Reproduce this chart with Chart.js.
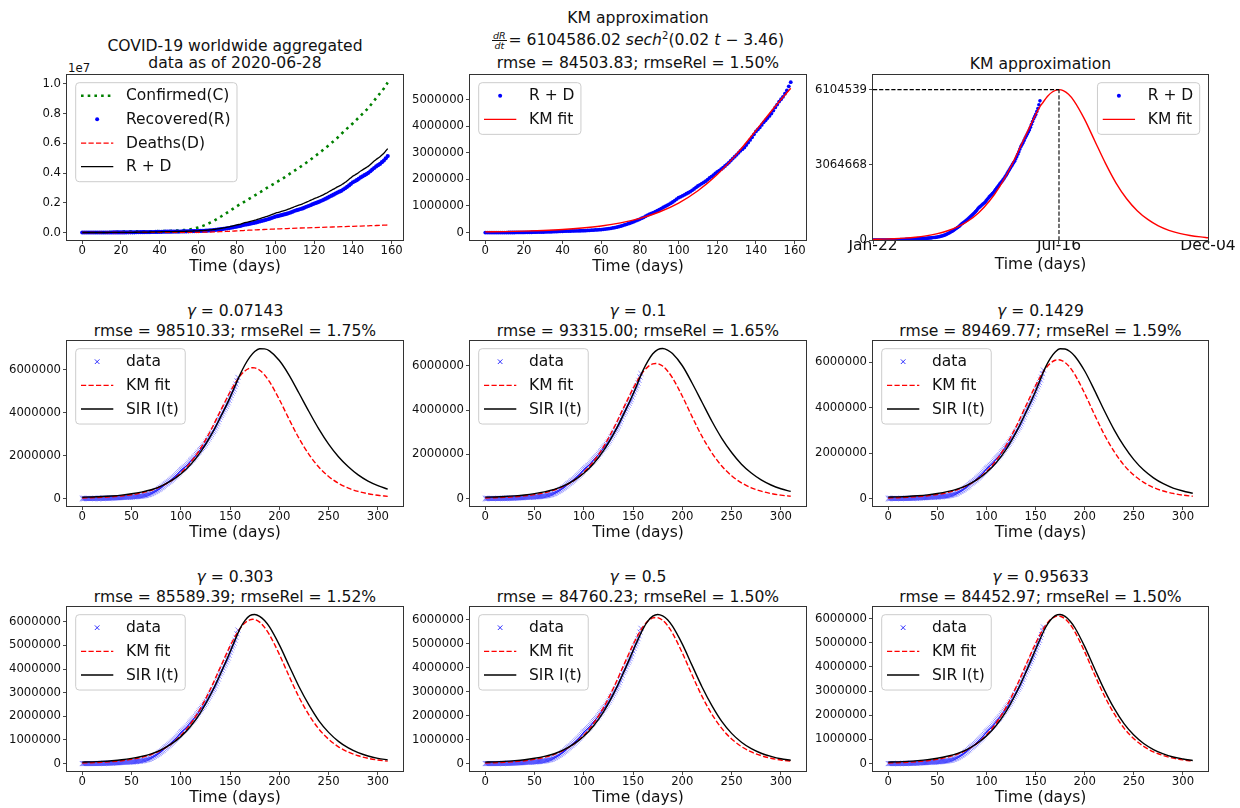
<!DOCTYPE html>
<html><head><meta charset="utf-8">
<script src="https://cdn.jsdelivr.net/npm/chart.js"></script>
<style>
html,body{margin:0;padding:0;background:#fff;}
#wrap{position:relative;width:1240px;height:808px;overflow:hidden;font-family:"DejaVu Sans",sans-serif;color:#111;}
canvas{position:absolute;}
.t{position:absolute;width:600px;text-align:center;font-size:15.6px;line-height:20px;white-space:nowrap;}
.frac{display:inline-block;vertical-align:middle;text-align:center;font-size:9.5px;line-height:9.5px;font-style:italic;margin-right:2px;}
.frac span{display:block;padding:0 1px;}
.frac span:first-child{border-bottom:1px solid #111;}
.off{position:absolute;font-size:11.7px;line-height:14px;}
</style></head><body><div id="wrap">
<div class="t" style="left:-65px;top:35.7px">COVID-19 worldwide aggregated</div>
<div class="t" style="left:-65px;top:53.3px">data as of 2020-06-28</div>
<div class="off" style="left:68px;top:61px">1e7</div>
<div class="t" style="left:338px;top:8.3px">KM approximation</div>
<div class="t" style="left:338px;top:30px"><span class="frac"><span>dR</span><span>dt</span></span>= 6104586.02 <i>sech</i><sup style="font-size:10px;line-height:0">2</sup>(0.02 <i>t</i> − 3.46)</div>
<div class="t" style="left:338px;top:53.3px">rmse = 84503.83; rmseRel = 1.50%</div>
<div class="t" style="left:740.5px;top:54px">KM approximation</div>
<div class="t" style="left:-65px;top:301px"><i>γ</i> = 0.07143</div>
<div class="t" style="left:-65px;top:321px">rmse = 98510.33; rmseRel = 1.75%</div>
<div class="t" style="left:338px;top:301px"><i>γ</i> = 0.1</div>
<div class="t" style="left:338px;top:321px">rmse = 93315.00; rmseRel = 1.65%</div>
<div class="t" style="left:740.5px;top:301px"><i>γ</i> = 0.1429</div>
<div class="t" style="left:740.5px;top:321px">rmse = 89469.77; rmseRel = 1.59%</div>
<div class="t" style="left:-65px;top:566.7px"><i>γ</i> = 0.303</div>
<div class="t" style="left:-65px;top:586.7px">rmse = 85589.39; rmseRel = 1.52%</div>
<div class="t" style="left:338px;top:566.7px"><i>γ</i> = 0.5</div>
<div class="t" style="left:338px;top:586.7px">rmse = 84760.23; rmseRel = 1.50%</div>
<div class="t" style="left:740.5px;top:566.7px"><i>γ</i> = 0.95633</div>
<div class="t" style="left:740.5px;top:586.7px">rmse = 84452.97; rmseRel = 1.50%</div>
</div>
<script>
// ---------------- data (values in millions) ----------------
const dayAxis = [0,1,2,3,4,5,6,7,8,9,10,11,12,13,14,15,16,17,18,19,20,21,22,23,24,25,26,27,28,29,30,31,32,33,34,35,36,37,38,39,40,41,42,43,44,45,46,47,48,49,50,51,52,53,54,55,56,57,58,59,60,61,62,63,64,65,66,67,68,69,70,71,72,73,74,75,76,77,78,79,80,81,82,83,84,85,86,87,88,89,90,91,92,93,94,95,96,97,98,99,100,101,102,103,104,105,106,107,108,109,110,111,112,113,114,115,116,117,118,119,120,121,122,123,124,125,126,127,128,129,130,131,132,133,134,135,136,137,138,139,140,141,142,143,144,145,146,147,148,149,150,151,152,153,154,155,156,157,158];
// recovered + deaths (R + D)
const rdDailyM = [0.0000,0.0000,0.0000,0.0001,0.0001,0.0001,0.0002,0.0002,0.0003,0.0004,
 0.0006,0.0008,0.0010,0.0014,0.0018,0.0023,0.0029,0.0036,0.0045,0.0054,
 0.0063,0.0073,0.0085,0.0100,0.0115,0.0131,0.0145,0.0160,0.0175,0.0193,
 0.0213,0.0236,0.0260,0.0282,0.0305,0.0330,0.0355,0.0382,0.0410,0.0447,
 0.0488,0.0520,0.0546,0.0566,0.0585,0.0606,0.0625,0.0646,0.0665,0.0678,
 0.0690,0.0722,0.0760,0.0792,0.0830,0.0880,0.0940,0.0985,0.1030,0.1071,
 0.1120,0.1200,0.1290,0.1381,0.1480,0.1597,0.1720,0.1862,0.2010,0.2200,
 0.2400,0.2620,0.2850,0.3100,0.3350,0.3586,0.3830,0.4135,0.4450,0.4762,
 0.5070,0.5390,0.5720,0.6160,0.6580,0.6870,0.7180,0.7522,0.7880,0.8226,
 0.8580,0.9005,0.9420,0.9810,1.0200,1.0612,1.1040,1.1515,1.2000,1.2562,
 1.3100,1.3440,1.3800,1.4183,1.4570,1.4952,1.5350,1.5880,1.6400,1.6948,
 1.7500,1.7950,1.8400,1.8842,1.9300,1.9905,2.0500,2.1046,2.1600,2.2210,
 2.2800,2.3290,2.3800,2.4395,2.5000,2.5643,2.6300,2.7051,2.7800,2.8493,
 2.9200,2.9948,3.0700,3.1342,3.2000,3.2890,3.3800,3.4790,3.5800,3.6912,
 3.8000,3.8740,3.9500,4.0450,4.1400,4.2190,4.3000,4.3840,4.4700,4.5830,
 4.7000,4.8090,4.9200,5.0080,5.1000,5.2190,5.3400,5.4930,5.6500];
const recoveredDailyM = [0.0000,0.0000,0.0000,0.0000,0.0000,0.0000,0.0001,0.0001,0.0001,0.0002,
 0.0003,0.0004,0.0006,0.0009,0.0012,0.0016,0.0021,0.0027,0.0035,0.0044,
 0.0052,0.0061,0.0071,0.0085,0.0100,0.0115,0.0127,0.0141,0.0155,0.0171,
 0.0190,0.0212,0.0235,0.0256,0.0278,0.0302,0.0327,0.0353,0.0381,0.0417,
 0.0457,0.0487,0.0512,0.0531,0.0550,0.0570,0.0588,0.0608,0.0625,0.0635,
 0.0644,0.0672,0.0706,0.0733,0.0766,0.0809,0.0861,0.0896,0.0930,0.0950,
 0.0974,0.1032,0.1100,0.1165,0.1237,0.1325,0.1419,0.1524,0.1634,0.1777,
 0.1930,0.2090,0.2259,0.2456,0.2653,0.2826,0.3007,0.3248,0.3499,0.3743,
 0.3983,0.4249,0.4524,0.4877,0.5210,0.5418,0.5645,0.5930,0.6230,0.6516,
 0.6810,0.7165,0.7510,0.7840,0.8170,0.8542,0.8930,0.9340,0.9760,1.0252,
 1.0720,1.1015,1.1330,1.1663,1.2000,1.2317,1.2650,1.3135,1.3610,1.4123,
 1.4640,1.5030,1.5420,1.5812,1.6220,1.6785,1.7340,1.7846,1.8360,1.8940,
 1.9500,1.9945,2.0410,2.0970,2.1540,2.2143,2.2760,2.3461,2.4160,2.4813,
 2.5480,2.6178,2.6880,2.7477,2.8090,2.8940,2.9810,3.0750,3.1710,3.2777,
 3.3820,3.4520,3.5240,3.6155,3.7070,3.7815,3.8580,3.9370,4.0180,4.1255,
 4.2370,4.3420,4.4490,4.5325,4.6200,4.7325,4.8470,4.9940,5.1450];
const deathDays = [0,4,8,12,16,20,24,28,32,36,40,44,48,52,54,56,58,60,62,64,66,68,70,72,74,76,78,80,82,84,86,88,90,92,94,96,98,100,104,108,112,116,120,124,128,132,136,140,144,148,152,156,158];
const deathsM = [0.0000,0.0001,0.0002,0.0004,0.0008,0.0011,0.0015,0.0020,0.0025,0.0028,0.0031,0.0035,0.0040,0.0054,0.0064,0.0079,0.0100,0.0146,0.0190,0.0243,0.0301,0.0376,0.0470,0.0591,0.0697,0.0823,0.0951,0.1087,0.1196,0.1370,0.1535,0.1650,0.1770,0.1910,0.2030,0.2110,0.2240,0.2380,0.2570,0.2790,0.2980,0.3160,0.3300,0.3460,0.3640,0.3820,0.3990,0.4180,0.4330,0.4520,0.4710,0.4930,0.5050];
const confirmedDays = [0,4,8,12,16,20,24,28,32,36,40,44,48,52,56,60,64,68,72,76,80,84,88,92,96,100,104,108,112,116,120,124,128,132,136,140,144,148,152,156,158];
const confirmedM = [0.0006,0.0021,0.0082,0.0198,0.0346,0.0456,0.0690,0.0755,0.0790,0.0834,0.0904,0.1014,0.1197,0.1562,0.2186,0.3378,0.5295,0.7818,1.0950,1.4260,1.7710,2.0800,2.4000,2.7100,3.0400,3.3500,3.6600,4.0100,4.3500,4.7100,5.1000,5.5000,5.9300,6.3800,6.8900,7.3600,7.8700,8.4000,9.0500,9.7000,10.1000];

// KM fit as drawn in the top-middle / top-right panels
const kmDays = [0,10,20,30,40,50,60,70,80,90,100,110,120,130,140,150,158,160,165,170,176,180,185,190,200,210,220,230,240,250,260,270,280,290,300,310,317];
const kmFitM = [0.024,0.035,0.052,0.077,0.114,0.169,0.248,0.364,0.532,0.772,1.109,1.571,2.181,2.946,3.833,4.747,5.42,5.537,5.827,6.020,6.1045,6.067,5.917,5.661,4.919,4.012,3.110,2.311,1.675,1.189,0.835,0.573,0.393,0.267,0.183,0.125,0.094];
const kmPeakDay = 176;
const kmPeakValue = 6104539;
// KM fit as drawn in the six SIR panels
const kmRowDays = [0,10,20,30,40,50,60,70,80,90,100,110,120,130,140,150,158,160,165,170,173,175,180,185,190,200,210,220,230,240,250,260,270,280,290,300,310];
const kmRowM = [0.0241,0.0359,0.0534,0.0796,0.1183,0.1757,0.2602,0.3841,0.5640,0.8224,1.1856,1.683,2.336,3.145,4.063,4.970,5.587,5.710,5.951,6.083,6.1046,6.095,5.987,5.766,5.450,4.621,3.688,2.805,2.062,1.467,1.029,0.709,0.484,0.330,0.223,0.150,0.101];

const sirDays = [0,10,20,30,40,50,60,70,80,90,100,110,120,130,140,150,160,165,170,175,180,185,190,200,210,220,230,240,250,260,270,280,290,300,310];
const sirG007 = [0.06,0.07,0.09,0.12,0.16,0.22,0.30,0.41,0.58,0.82,1.14,1.58,2.16,2.90,3.77,4.72,5.77,6.23,6.60,6.86,6.99,6.98,6.89,6.44,5.75,4.91,4.06,3.25,2.54,1.95,1.48,1.10,0.81,0.60,0.44];
const sirG010 = [0.06,0.07,0.09,0.12,0.16,0.22,0.30,0.41,0.58,0.82,1.14,1.58,2.16,2.90,3.77,4.72,5.78,6.21,6.54,6.73,6.78,6.71,6.55,6.00,5.21,4.35,3.49,2.72,2.08,1.55,1.15,0.84,0.61,0.44,0.32];
const sirG014 = [0.06,0.07,0.09,0.12,0.16,0.22,0.30,0.41,0.58,0.82,1.14,1.58,2.16,2.90,3.77,4.72,5.77,6.17,6.45,6.59,6.58,6.47,6.26,5.61,4.76,3.86,3.02,2.30,1.71,1.25,0.91,0.65,0.46,0.33,0.23];
const sirG030 = [0.06,0.07,0.09,0.12,0.16,0.22,0.30,0.41,0.58,0.82,1.14,1.58,2.16,2.90,3.77,4.72,5.70,6.05,6.26,6.31,6.23,6.05,5.78,5.02,4.13,3.25,2.48,1.82,1.32,0.94,0.66,0.46,0.32,0.22,0.155];
const sirG050 = [0.06,0.07,0.09,0.12,0.16,0.22,0.30,0.41,0.58,0.82,1.14,1.58,2.16,2.90,3.77,4.72,5.62,5.95,6.16,6.23,6.17,6.01,5.74,4.99,4.09,3.20,2.42,1.76,1.26,0.89,0.62,0.43,0.30,0.20,0.14];
const sirG096 = [0.06,0.07,0.09,0.12,0.16,0.22,0.30,0.41,0.58,0.82,1.14,1.58,2.16,2.90,3.77,4.72,5.62,5.93,6.12,6.17,6.09,5.90,5.62,4.84,3.93,3.05,2.28,1.65,1.18,0.83,0.58,0.40,0.27,0.19,0.127];

// ticks
const p1XTicks = [0,20,40,60,80,100,120,140,160];
const p1YTicks = [0,2e6,4e6,6e6,8e6,10e6];
const p2YTicks = [0,1e6,2e6,3e6,4e6,5e6];
const p3XTicks = [0,176,317];
const p3XLabels = ['Jan-22','Jul-16','Dec-04'];
const p3YTicks = [0,3064668,6104539];
const rowXTicks = [0,50,100,150,200,250,300];
const row2YTicks = [0,2e6,4e6,6e6];
const row3YTicks = [0,1e6,2e6,3e6,4e6,5e6,6e6];

// ---------------- helpers ----------------
const FONT = '"DejaVu Sans", sans-serif';
const M = 1e6;
function pts(xs, ys, k) { return xs.map((x, i) => ({x: x, y: ys[i] * k})); }
function upTo(xs, ys, lim) { const o = {x: [], y: []}; xs.forEach((x, i) => { if (x <= lim) { o.x.push(x); o.y.push(ys[i]); } }); return o; }
Chart.defaults.font.family = FONT;
Chart.defaults.color = '#111';
Chart.defaults.animation = false;

const mplPlugin = {
  id: 'mplDecor',
  afterDatasetsDraw(chart) {
    const ctx = chart.ctx, a = chart.chartArea;
    ctx.save();
    ctx.setLineDash([]);
    ctx.strokeStyle = '#333'; ctx.lineWidth = 1;
    ctx.strokeRect(Math.round(a.left) - 0.5, Math.round(a.top) - 0.5, Math.round(a.right - a.left) + 1, Math.round(a.bottom - a.top) + 1);
    const L = chart.canvas._legend;
    if (L) {
      const fs = 15.5;
      ctx.font = fs + 'px ' + FONT;
      let mw = 0;
      L.items.forEach(it => { mw = Math.max(mw, ctx.measureText(it.label).width); });
      const w = 50.3 + mw + 6.4, h = 28 + 23.67 * (L.items.length - 1);
      const x0 = L.loc === 'tr' ? a.right - 8.3 - w : a.left + 8.7;
      const y0 = a.top + 7.7;
      ctx.beginPath();
      ctx.roundRect(x0, y0, w, h, 3.5);
      ctx.fillStyle = 'rgba(255,255,255,0.8)'; ctx.fill();
      ctx.strokeStyle = '#cccccc'; ctx.lineWidth = 1; ctx.stroke();
      L.items.forEach((it, i) => {
        const cy = y0 + 13 + i * 23.67, sx0 = x0 + 5.3, sx1 = x0 + 37.6, cx = (sx0 + sx1) / 2;
        ctx.save();
        if (it.kind === 'dot') {
          ctx.fillStyle = it.color; ctx.beginPath(); ctx.arc(cx, cy, 2, 0, Math.PI * 2); ctx.fill();
        } else if (it.kind === 'x') {
          const r = 2.3; ctx.strokeStyle = it.color; ctx.lineWidth = 1;
          ctx.beginPath(); ctx.moveTo(cx - r, cy - r); ctx.lineTo(cx + r, cy + r); ctx.moveTo(cx - r, cy + r); ctx.lineTo(cx + r, cy - r); ctx.stroke();
        } else {
          ctx.strokeStyle = it.color; ctx.lineWidth = it.lw; ctx.setLineDash(it.dash || []);
          ctx.beginPath(); ctx.moveTo(sx0, cy); ctx.lineTo(sx1, cy); ctx.stroke();
        }
        ctx.restore();
        ctx.fillStyle = '#111'; ctx.textBaseline = 'middle'; ctx.textAlign = 'left';
        ctx.font = fs + 'px ' + FONT;
        ctx.fillText(it.label, x0 + 50.3, cy + 0.5);
      });
    }
    ctx.restore();
  }
};

const wrap = document.getElementById('wrap');
function makeChart(p) {
  const yW = 70, padR = 32, padT = 4, padB = 6, xH = 36;
  const pw = p.rect.r - p.rect.l, ph = p.rect.b - p.rect.t;
  const cw = yW + pw + padR, ch = padT + ph + xH + padB;
  const cv = document.createElement('canvas');
  cv.width = cw; cv.height = ch;
  cv.style.width = cw + 'px'; cv.style.height = ch + 'px';
  cv.style.left = (p.rect.l - yW) + 'px'; cv.style.top = (p.rect.t - padT) + 'px';
  cv._legend = p.legend;
  wrap.appendChild(cv);
  const tickGrid = {display: true, drawOnChartArea: false, drawTicks: true, tickLength: 4, color: '#333', lineWidth: 0.9};
  new Chart(cv, {
    type: 'line',
    data: {datasets: p.datasets},
    options: {
      responsive: false, devicePixelRatio: 1, animation: false, events: [],
      layout: {padding: {left: 0, right: padR, top: padT, bottom: padB}},
      plugins: {legend: {display: false}, tooltip: {enabled: false}},
      scales: {
        x: {
          type: 'linear', min: p.xr[0], max: p.xr[1],
          afterBuildTicks: s => { s.ticks = p.xt.map(v => ({value: v})); },
          afterFit: s => { s.height = xH; s.paddingLeft = 0; s.paddingRight = 0; },
          ticks: {autoSkip: false, maxRotation: 0, minRotation: 0, padding: p.xPad !== undefined ? p.xPad : 0,
                  font: {size: p.xFont || 11.7}, color: '#111',
                  callback: (v, i) => p.xl ? p.xl[i] : String(v)},
          grid: tickGrid, border: {display: false},
          title: {display: true, text: 'Time (days)', font: {size: 15.5}, color: '#111', padding: {top: 0, bottom: p.xTitlePad || 0}}
        },
        y: {
          type: 'linear', min: p.yr[0], max: p.yr[1],
          afterBuildTicks: s => { s.ticks = p.yt.map(v => ({value: v})); },
          afterFit: s => { s.width = yW; s.paddingTop = 0; s.paddingBottom = 0; },
          ticks: {autoSkip: false, padding: 2, font: {size: 11.7}, color: '#111',
                  callback: v => p.yf ? p.yf(v) : String(Math.round(v))},
          grid: tickGrid, border: {display: false}
        }
      }
    },
    plugins: [mplPlugin]
  });
}

const lineBase = {pointRadius: 0, fill: false, cubicInterpolationMode: 'monotone'};
const kmP2 = upTo(kmDays, kmFitM, 158);
function rowDatasets(sir) {
  return [
    Object.assign({label: 'SIR I(t)', data: pts(sirDays, sir, M), borderColor: '#000', borderWidth: 1.4, order: 0}, lineBase),
    Object.assign({label: 'KM fit', data: pts(kmRowDays, kmRowM, M), borderColor: '#ff0000', borderWidth: 1.4, borderDash: [5.2, 2.3], order: 1}, lineBase),
    {label: 'data', data: pts(dayAxis, rdDailyM, M), showLine: false, pointStyle: 'crossRot', pointRadius: 3.6,
     pointBorderColor: 'rgba(0,0,255,0.45)', pointBackgroundColor: 'rgba(0,0,255,0.45)', pointBorderWidth: 1, order: 2}
  ];
}
const rowLegend = {loc: 'tl', items: [
  {label: 'data', kind: 'x', color: 'rgba(0,0,255,0.8)'},
  {label: 'KM fit', kind: 'line', color: '#ff0000', lw: 1.4, dash: [5.2, 2.3]},
  {label: 'SIR I(t)', kind: 'line', color: '#000', lw: 1.4}
]};
const C1 = {l: 67, r: 403}, C2 = {l: 470, r: 806}, C3 = {l: 873, r: 1208};
const R1 = {t: 75, b: 240}, R2 = {t: 340, b: 506}, R3 = {t: 606, b: 771};
function rect(c, r) { return {l: c.l, r: c.r, t: r.t, b: r.b}; }

const panels = [
  {rect: rect(C1, R1), xr: [-7.9, 165.9], yr: [-0.0505e7, 1.0605e7], xt: p1XTicks, yt: p1YTicks,
   yf: v => (v / 1e7).toFixed(1),
   datasets: [
     Object.assign({label: 'Confirmed(C)', data: pts(confirmedDays, confirmedM, M), borderColor: '#008000', borderWidth: 2.6, borderDash: [2.6, 4.1], order: 3}, lineBase),
     {label: 'Recovered(R)', data: pts(dayAxis, recoveredDailyM, M), showLine: false, pointRadius: 2.1, pointBorderWidth: 0, pointBackgroundColor: '#0000ff', order: 2},
     Object.assign({label: 'Deaths(D)', data: pts(deathDays, deathsM, M), borderColor: '#ff0000', borderWidth: 1.3, borderDash: [5.2, 2.3], order: 1}, lineBase),
     Object.assign({label: 'R + D', data: pts(dayAxis, rdDailyM, M), borderColor: '#000', borderWidth: 1.3, order: 0}, lineBase)
   ],
   legend: {loc: 'tl', items: [
     {label: 'Confirmed(C)', kind: 'line', color: '#008000', lw: 2.6, dash: [2.6, 4.1]},
     {label: 'Recovered(R)', kind: 'dot', color: '#0000ff'},
     {label: 'Deaths(D)', kind: 'line', color: '#ff0000', lw: 1.3, dash: [5.2, 2.3]},
     {label: 'R + D', kind: 'line', color: '#000', lw: 1.3}
   ]}},
  {rect: rect(C2, R1), xr: [-7.9, 165.9], yr: [-0.28e6, 5.92e6], xt: p1XTicks, yt: p2YTicks,
   datasets: [
     Object.assign({label: 'KM fit', data: pts(kmP2.x, kmP2.y, M), borderColor: '#ff0000', borderWidth: 1.4, order: 0}, lineBase),
     {label: 'R + D', data: pts(dayAxis, rdDailyM, M), showLine: false, pointRadius: 1.9, pointBorderWidth: 0, pointBackgroundColor: '#0000ff', order: 1}
   ],
   legend: {loc: 'tl', items: [
     {label: 'R + D', kind: 'dot', color: '#0000ff'},
     {label: 'KM fit', kind: 'line', color: '#ff0000', lw: 1.4}
   ]}},
  {rect: rect(C3, R1), xr: [0, 317], yr: [0, 6.7e6], xt: p3XTicks, xl: p3XLabels, xFont: 15.5, xPad: -7.5, xTitlePad: 2, yt: p3YTicks,
   datasets: [
     Object.assign({label: 'peak level', data: [{x: 0, y: kmPeakValue}, {x: kmPeakDay, y: kmPeakValue}], borderColor: '#000', borderWidth: 1.1, borderDash: [4.2, 1.9], order: 0}, lineBase),
     Object.assign({label: 'peak day', data: [{x: kmPeakDay, y: 0}, {x: kmPeakDay, y: kmPeakValue}], borderColor: '#000', borderWidth: 1.1, borderDash: [4.2, 1.9], order: 0}, lineBase),
     Object.assign({label: 'KM fit', data: pts(kmDays, kmFitM, M), borderColor: '#ff0000', borderWidth: 1.4, order: 1}, lineBase),
     {label: 'R + D', data: pts(dayAxis, rdDailyM, M), showLine: false, pointRadius: 1.8, pointBorderWidth: 0, pointBackgroundColor: '#0000ff', order: 2}
   ],
   legend: {loc: 'tr', items: [
     {label: 'R + D', kind: 'dot', color: '#0000ff'},
     {label: 'KM fit', kind: 'line', color: '#ff0000', lw: 1.4}
   ]}},
  {rect: rect(C1, R2), xr: [-15.5, 325.5], yr: [-0.35e6, 7.35e6], xt: rowXTicks, yt: row2YTicks, datasets: rowDatasets(sirG007), legend: rowLegend},
  {rect: rect(C2, R2), xr: [-15.5, 325.5], yr: [-0.339e6, 7.119e6], xt: rowXTicks, yt: row2YTicks, datasets: rowDatasets(sirG010), legend: rowLegend},
  {rect: rect(C3, R2), xr: [-15.5, 325.5], yr: [-0.33e6, 6.93e6], xt: rowXTicks, yt: row2YTicks, datasets: rowDatasets(sirG014), legend: rowLegend},
  {rect: rect(C1, R3), xr: [-15.5, 325.5], yr: [-0.3155e6, 6.6255e6], xt: rowXTicks, yt: row3YTicks, datasets: rowDatasets(sirG030), legend: rowLegend},
  {rect: rect(C2, R3), xr: [-15.5, 325.5], yr: [-0.3115e6, 6.5415e6], xt: rowXTicks, yt: row3YTicks, datasets: rowDatasets(sirG050), legend: rowLegend},
  {rect: rect(C3, R3), xr: [-15.5, 325.5], yr: [-0.3085e6, 6.4785e6], xt: rowXTicks, yt: row3YTicks, datasets: rowDatasets(sirG096), legend: rowLegend}
];
panels.forEach(makeChart);
</script></body></html>
